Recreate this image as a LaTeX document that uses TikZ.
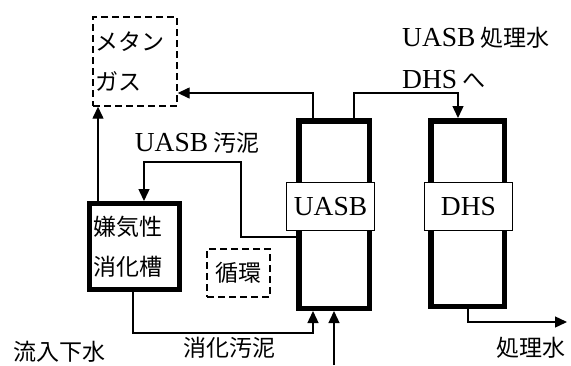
\documentclass[tikz,border=0pt]{standalone}
\usepackage{fontspec}
\newfontfamily\jpfont{Noto Sans CJK JP}
\newfontfamily\latfont{Liberation Serif}
\usetikzlibrary{arrows.meta,calc}
\newcommand{\jpt}[1]{{\jpfont\fontsize{23}{23}\selectfont #1}}
\newcommand{\ltt}[1]{{\latfont\fontsize{27.5}{27.5}\selectfont #1}}
\begin{document}
\begin{tikzpicture}[x=1pt,y=-1pt,
 thinl/.style={line width=1.4pt},
 arr/.style={thinl,-{Triangle[length=12pt,width=11pt]}},
 vessel/.style={draw,line width=5.5pt,inner sep=0pt},
 lab/.style={draw,fill=white,thinl,minimum width=88pt,minimum height=48pt,inner sep=0pt},
 dbox/.style={draw,thinl,dash pattern=on 7pt off 4pt,inner sep=0pt},
 jpbig/.style={font={\jpfont\fontsize{23}{40}\selectfont},align=left},
 txt/.style={inner sep=0pt}]
\useasboundingbox (0,0) rectangle (571,365);

% vessels
\node[vessel,minimum width=70.5pt,minimum height=187.5pt] (uasb) at (334,214.5) {};
\node[vessel,minimum width=73.5pt,minimum height=185.5pt] (dhs) at (467.5,213.5) {};
\node[lab] (uasbl) at (330.5,206.5) {\ltt{UASB}};
\node[lab] (dhsl) at (468.5,206.5) {\ltt{DHS}};

% digester
\node[draw,line width=5pt,minimum width=90pt,minimum height=86pt,inner sep=0pt,jpbig,text width=83pt] (dig) at (134.5,246.5) {嫌気性\\消化槽};

% methane gas
\node[dbox,minimum width=84pt,minimum height=89pt,jpbig,text width=80pt] (gas) at (135,61.5) {メタン\\ガス};

% circulation
\node[dbox,minimum width=63pt,minimum height=48pt] (jun) at (238.5,273) {\jpt{循環}};

% texts
\node[txt] (t1) at (197,143) {\ltt{UASB}\hspace{5pt}\jpt{汚泥}};
\node[txt,anchor=west] (t2) at (402,38) {\ltt{UASB}\hspace{5pt}\jpt{処理水}};
\node[txt,anchor=west] (t3) at (402,80) {\ltt{DHS}\hspace{5pt}\jpt{へ}};
\node[txt] (t4) at (59,352) {\jpt{流入下水}};
\node[txt] (t5) at (229,348) {\jpt{消化汚泥}};
\node[txt] (t6) at (531,348) {\jpt{処理水}};

% connectors
\draw[arr] ($(uasb.north west)+(17,0)$) |- ($(gas.south east)+(0,-13.7)$);
\draw[arr] ($(dig.north west)+(11,0)$) coordinate (p1) -- (p1 |- gas.south);
\draw[arr] ($(uasb.north west)+(0,119)$) -| ++(-55,-75) -| ($(dig.north west)+(57,0)$);
\draw[arr] ($(uasb.north west)+(58,0)$) -- ++(0,-25) -| ($(dhs.north west)+(30,0)$);
\draw[arr] ($(dig.south west)+(46,0)$) -- ++(0,41) -| ($(uasb.south west)+(17,0)$);
\coordinate (in) at (334,365);
\draw[arr] (in) -- (in |- uasb.south);
\coordinate (out) at (567,322);
\draw[arr] ($(dhs.south west)+(40,0)$) |- (out);
\end{tikzpicture}
\end{document}
